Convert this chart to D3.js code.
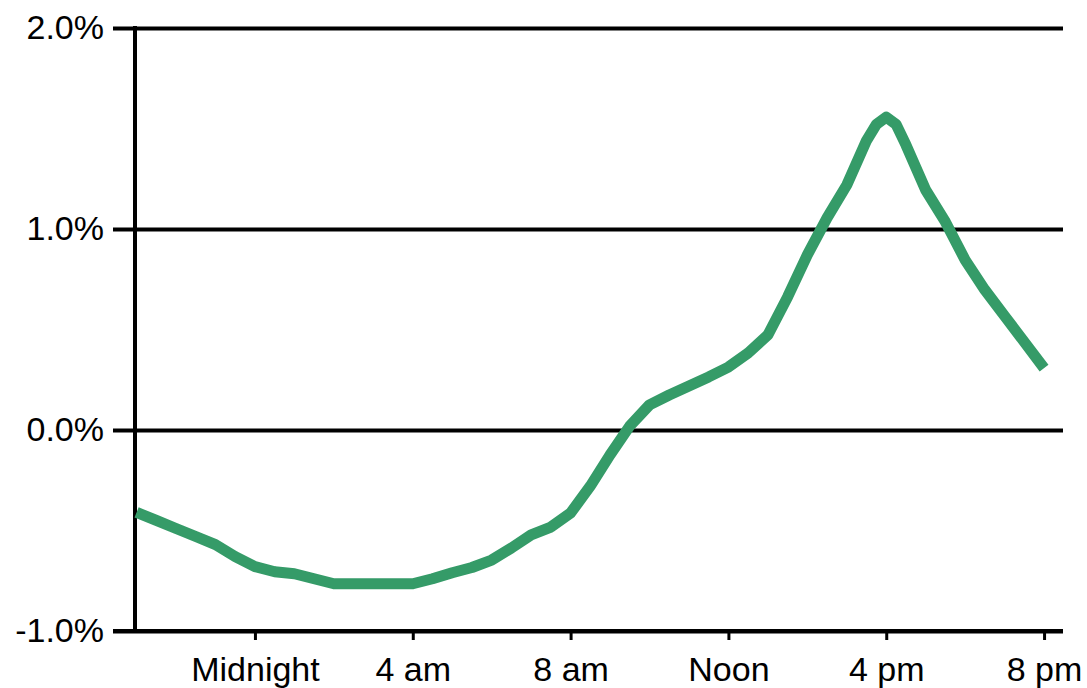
<!DOCTYPE html>
<html>
<head>
<meta charset="utf-8">
<script src="https://cdn.jsdelivr.net/npm/d3@7"></script>
<style>
  body { margin: 0; background: #fff; }
  svg { display: block; font-family: "Liberation Sans", Arial, sans-serif; }
</style>
</head>
<body>
<svg width="1087" height="688"></svg>
<script>
// hours relative to midnight (-3 = 9 pm previous day)
var hours = [-3, -2.5, -2, -1.5, -1, -0.5, 0, 0.5, 1, 1.5, 2, 2.5, 3, 3.5, 4, 4.5,
    5, 5.5, 6, 6.5, 7, 7.5, 8, 8.5, 9, 9.5, 10, 10.5, 11, 11.5, 12, 12.5,
    13, 13.5, 14, 14.5, 15, 15.5, 15.75, 16, 16.25, 16.5, 17, 17.5, 18, 18.5, 19, 19.5, 20];
// percent change
var values = [-0.41, -0.45, -0.49, -0.53, -0.57, -0.63, -0.68, -0.705, -0.715, -0.74,
    -0.765, -0.765, -0.765, -0.765, -0.765, -0.74, -0.71, -0.684, -0.647, -0.587,
    -0.522, -0.483, -0.413, -0.279, -0.124, 0.02, 0.125, 0.174, 0.219, 0.264,
    0.313, 0.383, 0.473, 0.662, 0.871, 1.055, 1.219, 1.44, 1.52, 1.557, 1.52, 1.418,
    1.194, 1.035, 0.846, 0.697, 0.567, 0.438, 0.308];

var yTicks = [-1, 0, 1, 2];
var xTicks = [0, 4, 8, 12, 16, 20];
var xTickLabels = ['Midnight', '4 am', '8 am', 'Noon', '4 pm', '8 pm'];

var margin = {top: 28, right: 24, bottom: 57, left: 135};
var width = 1087 - margin.left - margin.right;
var height = 688 - margin.top - margin.bottom;

var svg = d3.select('svg')
    .append('g')
    .attr('transform', 'translate(' + margin.left + ',' + margin.top + ')');

var x = d3.scaleLinear().domain([-3.04, 20.48]).range([0, width]);
var y = d3.scaleLinear().domain([-1, 2]).range([height, 0]);

// gridlines + left ticks
var yAxis = svg.append('g')
    .call(d3.axisLeft(y)
        .tickValues(yTicks)
        .tickSize(22)
        .tickPadding(9)
        .tickFormat(function(d){ return d.toFixed(1) + '%'; }));
yAxis.select('.domain').remove();
yAxis.selectAll('.tick line')
    .attr('x2', width)
    .attr('x1', -22)
    .attr('stroke', '#000')
    .attr('stroke-width', 4);
yAxis.selectAll('text')
    .attr('font-size', 34)
    .attr('font-family', '"Liberation Sans", Arial, sans-serif')
    .attr('fill', '#000');

// x axis
var xAxis = svg.append('g')
    .attr('transform', 'translate(0,' + height + ')')
    .call(d3.axisBottom(x)
        .tickValues(xTicks)
        .tickSize(9)
        .tickPadding(17)
        .tickFormat(function(d, i){ return xTickLabels[i]; }));
xAxis.select('.domain').remove();
xAxis.selectAll('.tick line')
    .attr('stroke', '#000')
    .attr('stroke-width', 3);
xAxis.selectAll('text')
    .attr('font-size', 34)
    .attr('font-family', '"Liberation Sans", Arial, sans-serif')
    .attr('fill', '#000');

// axis lines
svg.append('line')
    .attr('x1', -22).attr('x2', width)
    .attr('y1', height).attr('y2', height)
    .attr('stroke', '#000').attr('stroke-width', 4);
svg.append('line')
    .attr('x1', 0).attr('x2', 0)
    .attr('y1', -2).attr('y2', height + 2)
    .attr('stroke', '#000').attr('stroke-width', 4);

var data = hours.map(function(h, i){ return {h: h, v: values[i]}; });

var line = d3.line()
    .x(function(d){ return x(d.h); })
    .y(function(d){ return y(d.v); });

svg.append('path')
    .datum(data)
    .attr('d', line)
    .attr('fill', 'none')
    .attr('stroke', '#359b68')
    .attr('stroke-width', 11)
    .attr('stroke-linejoin', 'round')
    .attr('stroke-linecap', 'butt');
</script>
</body>
</html>
